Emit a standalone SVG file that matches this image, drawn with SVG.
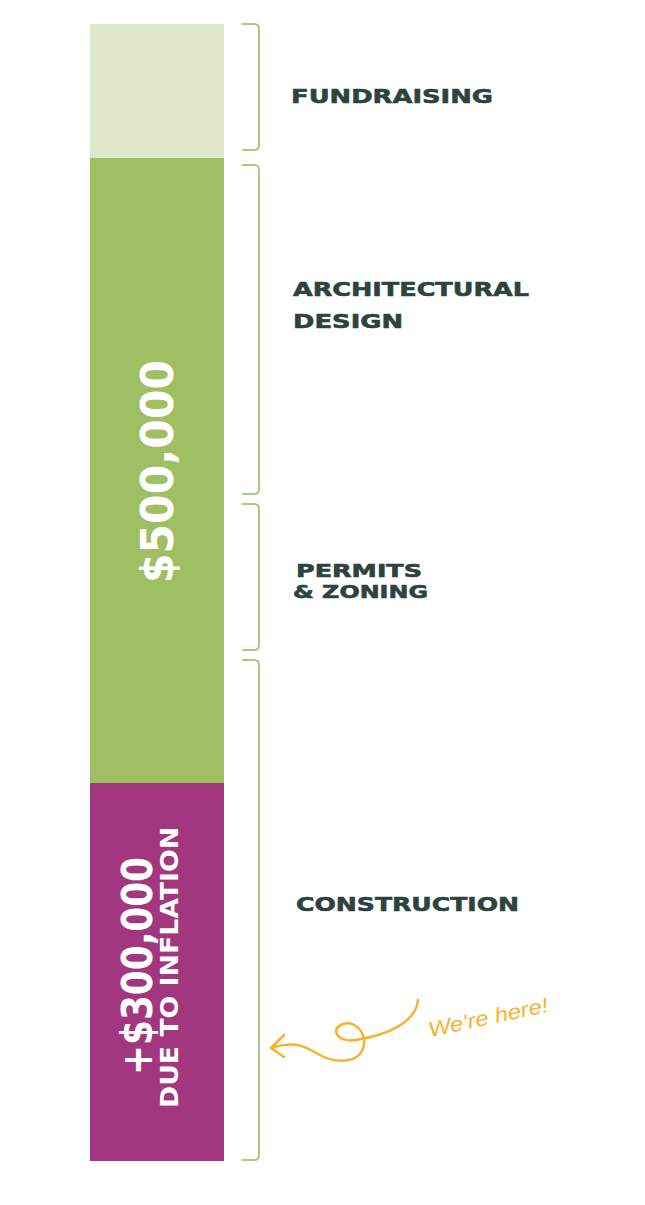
<svg xmlns="http://www.w3.org/2000/svg" width="645" height="1205" viewBox="0 0 645 1205">
<style>
.lbl{font-family:"DejaVu Sans","Liberation Sans",sans-serif;font-weight:bold;font-size:20px;fill:#2D4340;stroke:#2D4340;stroke-width:0.6}
.sm{font-size:18px}
.br{fill:none;stroke:#A9CC7A;stroke-width:2}
.wt{font-family:"DejaVu Sans","Liberation Sans",sans-serif;font-weight:bold;fill:#FFFFFF}
</style>
<rect width="645" height="1205" fill="#FFFFFF"/>
<g id="fundraising-bar"><rect x="90" y="24" width="134" height="134" fill="#DFE7CA"/></g>
<g id="budget-bar"><rect x="90" y="158" width="134" height="625" fill="#A0BF63"/>
<text class="wt" font-size="44" transform="translate(173,583) rotate(-90)" textLength="223" lengthAdjust="spacingAndGlyphs">$500,000</text></g>
<g id="inflation-bar"><rect x="90" y="783" width="134" height="378" fill="#A3377F"/>
<text class="wt" font-size="43" transform="translate(152,1075) rotate(-90)" textLength="218" lengthAdjust="spacingAndGlyphs">+$300,000</text>
<text class="wt" font-size="24" transform="translate(178,1108) rotate(-90)" textLength="281" lengthAdjust="spacingAndGlyphs">DUE TO INFLATION</text></g>
<g id="connectors">
<path class="br" d="M242,24 H254 Q259,24 259,29 V145 Q259,150 254,150 H242"/>
<path class="br" d="M242,165 H254 Q259,165 259,170 V489 Q259,494 254,494 H242"/>
<path class="br" d="M242,504 H254 Q259,504 259,509 V645 Q259,650 254,650 H242"/>
<path class="br" d="M242,660 H254 Q259,660 259,665 V1155 Q259,1160 254,1160 H242"/>
<path d="M418,1000 C416,1022 388,1035 356,1040 C336,1043 330,1028 343,1024 C357,1020 369,1036 362,1051 C355,1064 333,1063 318,1054 C303,1045 293,1041 271,1048 M284,1035 L271,1048 L284,1057" fill="none" stroke="#F6B32E" stroke-width="2.5" stroke-linecap="round" stroke-linejoin="round"/>
</g>
<g id="fundraising"><text class="lbl" x="291" y="103" textLength="202" lengthAdjust="spacingAndGlyphs">FUNDRAISING</text></g>
<g id="architectural-design"><text class="lbl" x="293" y="296" textLength="236" lengthAdjust="spacingAndGlyphs">ARCHITECTURAL</text>
<text class="lbl" x="293" y="328" textLength="110" lengthAdjust="spacingAndGlyphs">DESIGN</text></g>
<g id="permits-zoning"><text class="lbl sm" x="296" y="577" textLength="126" lengthAdjust="spacingAndGlyphs">PERMITS</text>
<text class="lbl sm" x="293" y="598" textLength="135" lengthAdjust="spacingAndGlyphs">&amp; ZONING</text></g>
<g id="construction"><text class="lbl" x="296" y="911" textLength="223" lengthAdjust="spacingAndGlyphs">CONSTRUCTION</text></g>
<g id="we-are-here"><text x="430" y="1037" transform="rotate(-12 430 1037)" font-family="'Liberation Sans',sans-serif" font-style="italic" font-size="21" fill="#F6B32E" textLength="122" lengthAdjust="spacingAndGlyphs">We're here!</text></g>
</svg>
